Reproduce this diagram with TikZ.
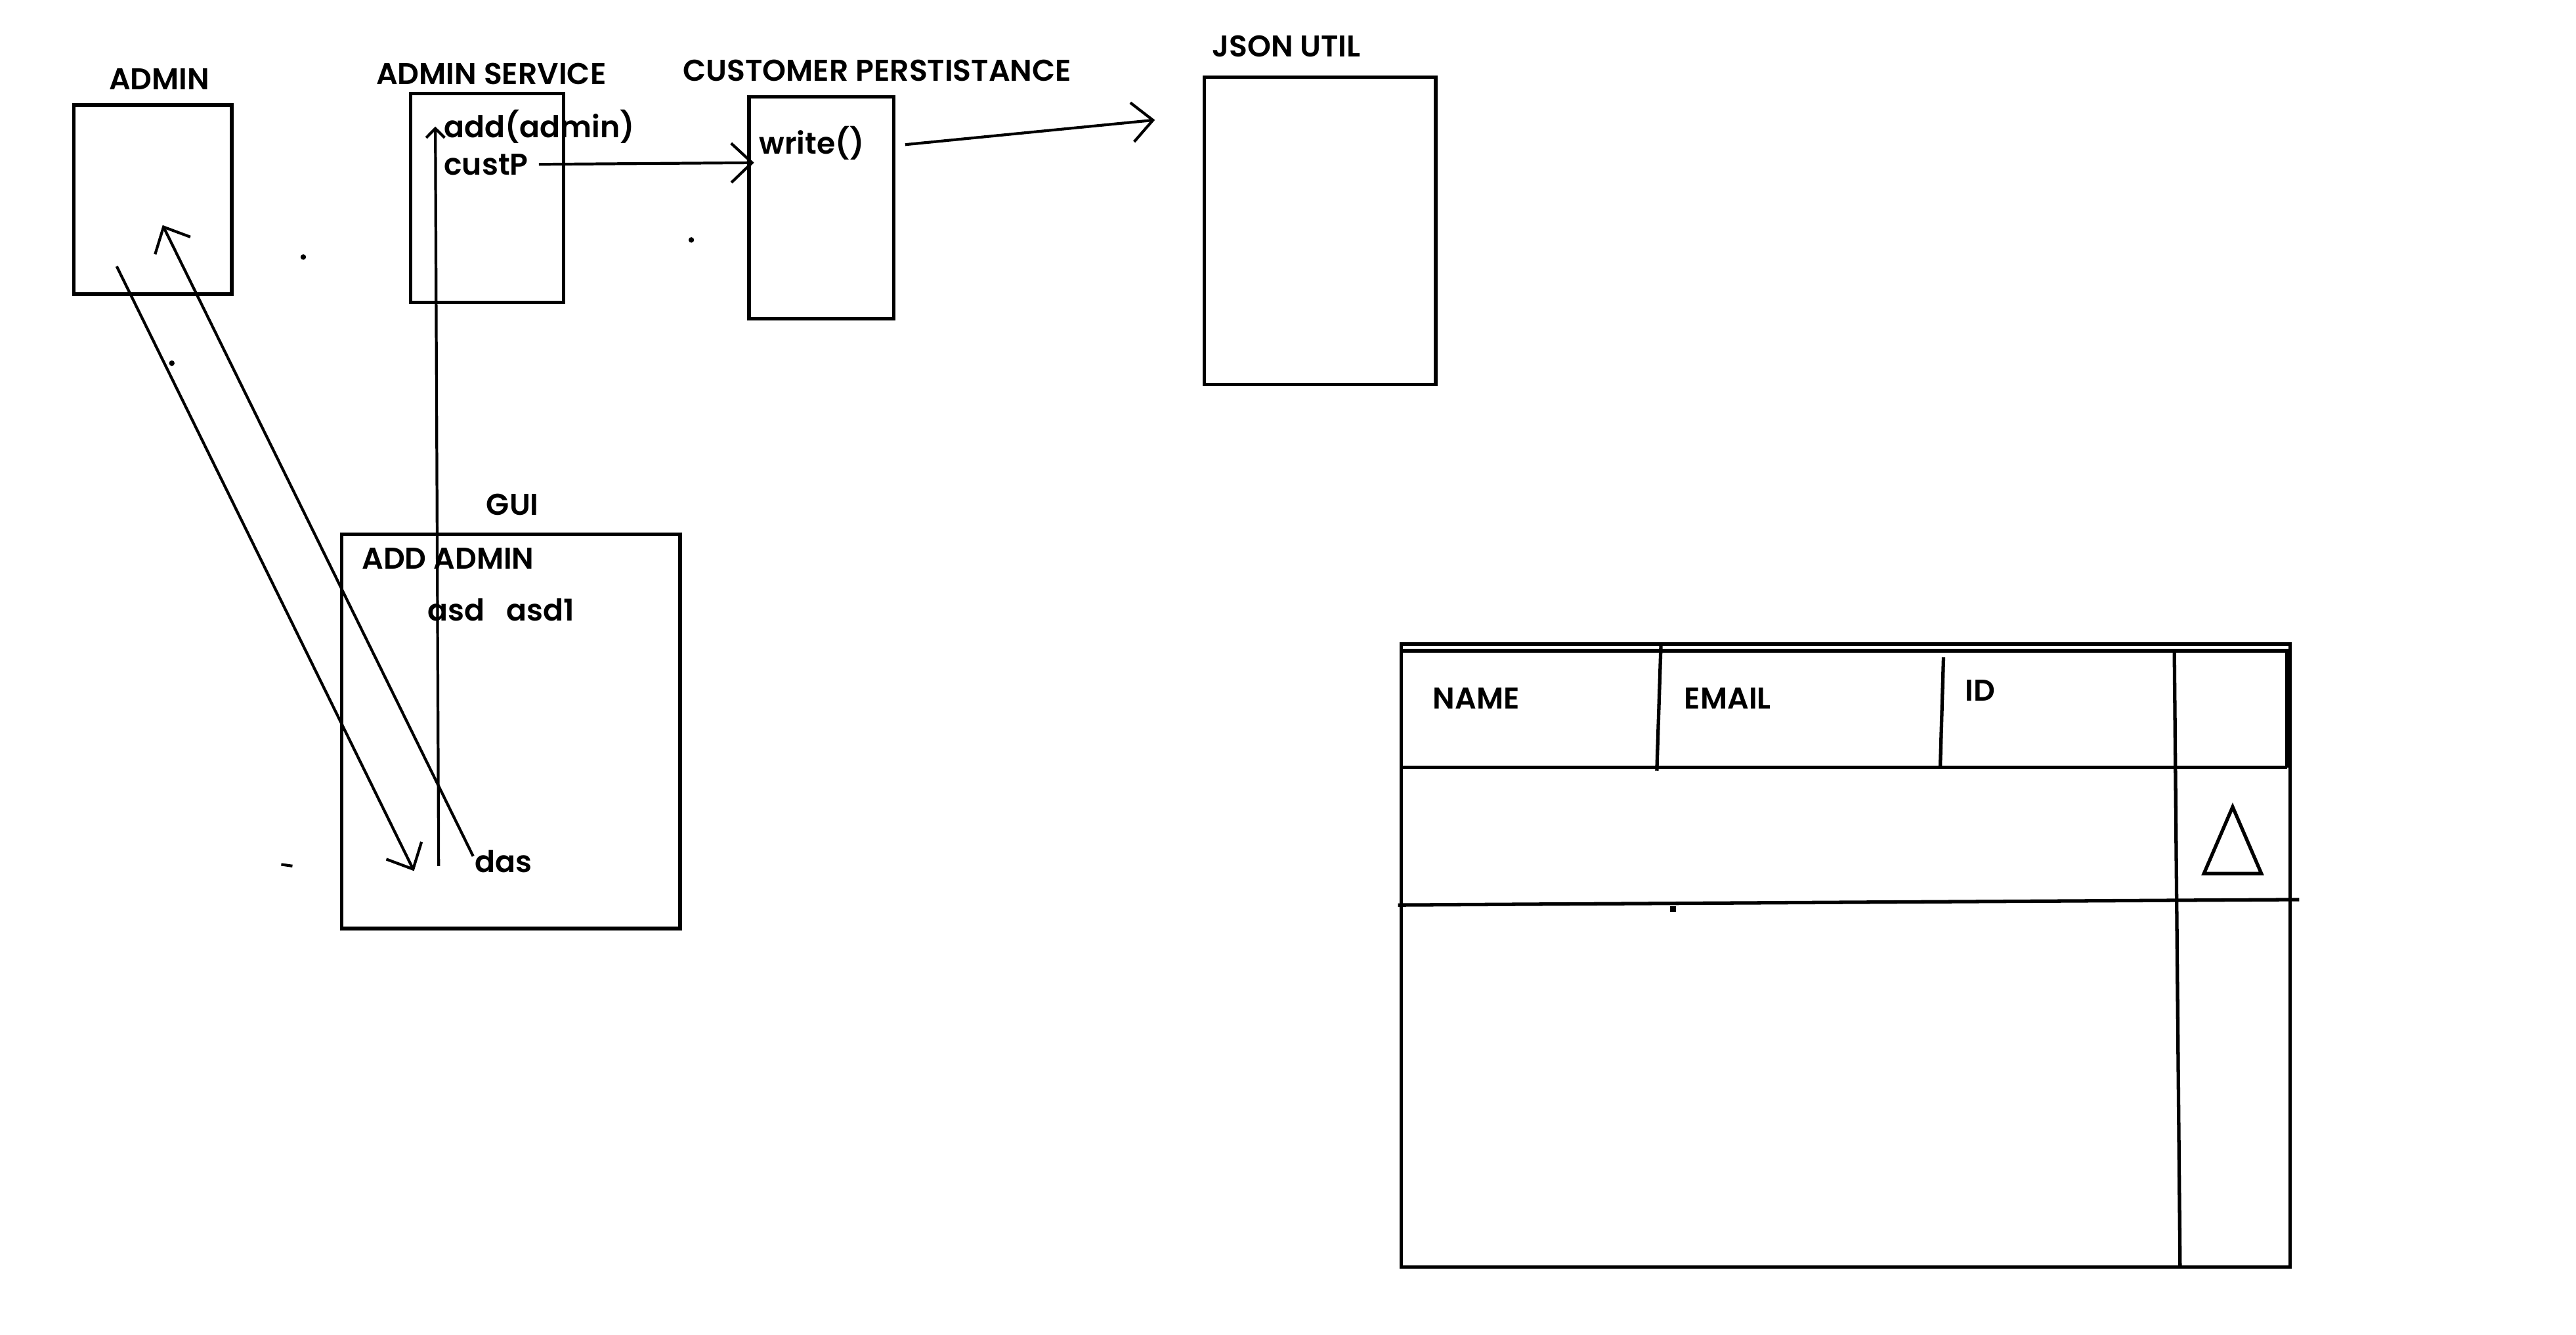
\documentclass[tikz,border=0pt]{standalone}
\usepackage{fontspec}
\setmainfont{Poppins}[BoldFont={Poppins SemiBold}]
\usetikzlibrary{arrows.meta,fit}

\begin{document}
\begin{tikzpicture}[x=0.025cm, y=-0.025cm,
    box/.style={draw, line width=1.6pt, inner sep=0pt},
    lbl/.style={font=\fontsize{13}{15}\selectfont\bfseries, inner sep=0pt},
    txt/.style={lbl, anchor=west},
    wire/.style={line width=1.2pt},
    tbl/.style={line width=1.5pt},
    barb/.style={-{Straight Barb[length=9pt, width=17pt]}}]
  \useasboundingbox (0,0) rectangle (1568,812);

  % classes
  \node[box, fit={(45,64) (141,179)}] (admin) {};
  \node[box, fit={(250,57) (343,184)}] (adminsvc) {};
  \node[box, fit={(456,59) (544,194)}] (custp) {};
  \node[box, fit={(733,47) (874,234)}] (json) {};
  \node[box, fit={(208,325) (414,565)}] (gui) {};

  \node[lbl] (adminlbl) at (97,48) {ADMIN};
  \node[lbl] (svclbl) at (299,45) {ADMIN SERVICE};
  \node[lbl] (custlbl) at (534,43) {CUSTOMER PERSTISTANCE};
  \node[lbl] (jsonlbl) at (783,28) {JSON UTIL};
  \node[lbl] (guilbl) at (312,307) {GUI};

  \node[txt] (addm) at (270,77) {add(admin)};
  \node[txt] (custP) at (270,100) {custP};
  \node[txt] (write) at (462,87) {write()};
  \node[txt] (addadmin) at (220,340) {ADD ADMIN};
  \node[txt] (asd) at (260,371) {asd};
  \node[txt] (asdone) at (308,371) {asd1};
  \node[txt] (das) at (289,524) {das};

  % calls
  \coordinate (c1) at (71,162);
  \coordinate (c2) at (252,530);
  \coordinate (d1) at (288,521);
  \coordinate (d2) at (99,137);
  \coordinate (v1) at (267,527);
  \coordinate (v2) at (265,77);
  \coordinate (p1) at (328,100);
  \coordinate (p2) at (459,99);
  \coordinate (w1) at (551,88);
  \coordinate (w2) at (703,73);
  \draw[wire, barb] (c1) -- (c2);
  \draw[wire, barb] (d1) -- (d2);
  \draw[wire, -{Straight Barb[length=4pt, width=8pt]}] (v1) -- (v2);
  \draw[wire, barb] (p1) -- (p2);
  \draw[wire, barb] (w1) -- (w2);

  % stray marks
  \fill (184.6,156.4) circle (1.2pt);
  \fill (420.8,146) circle (1.2pt);
  \fill (104.6,221) circle (1.2pt);
  \draw[wire] (171.2,526) -- (178,527);

  % table
  \draw[tbl] (853,392) -- (1394,392) -- (1394,771) -- (853,771) -- cycle;
  \draw[tbl] (853,396) -- (1392,396) -- (1392,467);
  \draw[tbl] (853,467) -- (1392,467);
  \draw[tbl] (1011,392) -- (1008.5,469);
  \draw[tbl] (1183,400) -- (1181,467);
  \draw[tbl] (1323.5,396) -- (1327,771);
  \draw[tbl] (851,550.7) -- (1399.5,547.4);
  \draw[tbl] (1359,491) -- (1341.5,531.6) -- (1376.5,531.6) -- cycle;
  \fill (1016.5,551.5) rectangle +(3.5,3.5);

  \node[txt] (name) at (872,425) {NAME};
  \node[txt] (email) at (1025,425) {EMAIL};
  \node[txt] (id) at (1196,420) {ID};
\end{tikzpicture}
\end{document}
